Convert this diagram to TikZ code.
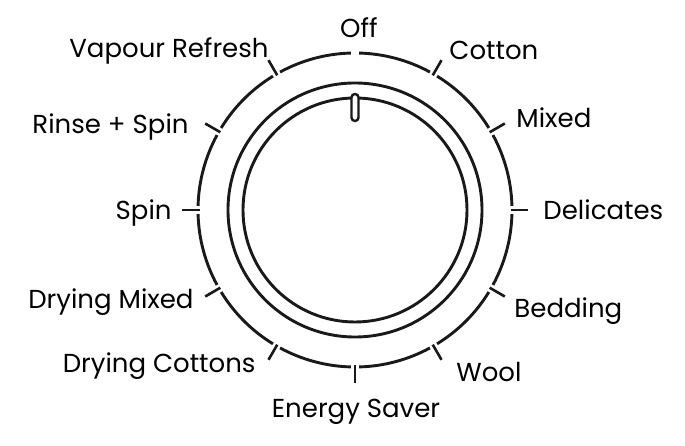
\documentclass[tikz,border=0pt]{standalone}
\usepackage{fontspec}
\setmainfont{Poppins}
\usepackage{tikz}
\usetikzlibrary{positioning}

\begin{document}
\begin{tikzpicture}[x=1pt,y=1pt, line width=2.9pt,
   ring/.style={draw=black!90},
   dialtick/.style={draw=black!90, line width=2.6pt},
   lbl/.style={font=\fontsize{26}{30}\selectfont, inner sep=0pt}]
   \useasboundingbox (0,0) rectangle (685,446);
   \coordinate (C) at (355,236);
   % outer ring, cut at every setting
   \foreach \a in {0,30,...,330} {
      \draw[ring] ([shift={(\a+1.5:157)}]C) arc[start angle=\a+1.5, end angle=\a+28.5, radius=157];
   }
   \foreach \a in {0,30,60,120,150,...,330} {
      \draw[dialtick] ([shift={(\a:155.5)}]C) -- ([shift={(\a:173)}]C);
   }
   % knob
   \draw[ring] (C) circle[radius=127];
   \draw[ring] (C) circle[radius=112];
   \draw[ring, fill=white, line width=2.4pt, rounded corners=3.4pt]
      (351.5,325) rectangle (358.5,352);
   % settings
   \node[lbl, anchor=base] (off) at (359,408) {Off};
   \node[lbl, anchor=base west] (cotton) at (448,386) {Cotton};
   \node[lbl, anchor=base west] (mixed) at (515,318) {Mixed};
   \node[lbl, anchor=base west] (delicates) at (542,226) {Delicates};
   \node[lbl, anchor=base west] (bedding) at (513,128) {Bedding};
   \node[lbl, anchor=base west] (wool) at (455,64) {Wool};
   \node[lbl, anchor=base] (saver) at (356,28) {Energy Saver};
   \node[lbl, anchor=base east] (drycot) at (257,73) {Drying Cottons};
   \node[lbl, anchor=base east] (drymix) at (195,137) {Drying Mixed};
   \node[lbl, anchor=base east] (spin) at (173,226) {Spin};
   \node[lbl, anchor=base east] (rinse) at (190,312) {Rinse + Spin};
   \node[lbl, anchor=base east] (vapour) at (270,388) {Vapour Refresh};
\end{tikzpicture}
\end{document}
